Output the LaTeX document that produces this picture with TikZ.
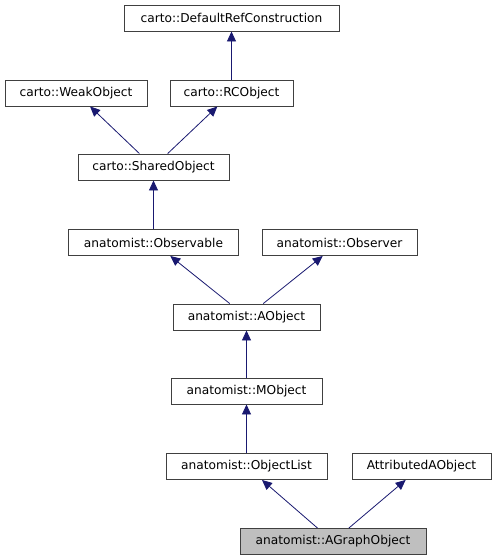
\documentclass[tikz,border=0pt]{standalone}
\usepackage{fontspec}
\setmainfont{DejaVu Sans}
\usetikzlibrary{arrows.meta}
\definecolor{edgeblue}{HTML}{191970}
\definecolor{selgray}{HTML}{BFBFBF}
\tikzset{
      cls/.style={draw=black!75, line width=0.9pt, minimum height=26pt,
                  minimum width=#1, inner sep=0pt,
                  font=\fontsize{12.2}{14}\selectfont},   % one class box
      inherit/.style={draw=edgeblue, line width=0.8pt,
                  -{Triangle[length=10pt,width=9pt]}}      % child -> parent
}
\begin{document}
\begin{tikzpicture}[x=1pt, y=-1pt]
                  \useasboundingbox (0, 0) rectangle (496, 560);
                  % carto classes
                  \node [cls=215pt] (refcons) at (231.5, 18) {carto::DefaultRefConstruction};
                  \node [cls=142pt] (weak) at (76, 93) {carto::WeakObject};
                  \node [cls=123pt] (rcobj) at (231.5, 93) {carto::RCObject};
                  \node [cls=151pt] (shared) at (153.5, 167) {carto::SharedObject};
                  % anatomist classes
                  \node [cls=170pt] (observable) at (153.5, 242.5) {anatomist::Observable};
                  \node [cls=155pt] (observer) at (339.5, 242.5) {anatomist::Observer};
                  \node [cls=147pt] (aobject) at (246.5, 317) {anatomist::AObject};
                  \node [cls=151pt] (mobject) at (246.5, 391) {anatomist::MObject};
                  \node [cls=161pt] (objlist) at (246.5, 466.5) {anatomist::ObjectList};
                  \node [cls=139pt] (attrib) at (421.5, 466.5) {AttributedAObject};
                  \node [cls=186pt, fill=selgray] (agraph) at (333, 541.5) {anatomist::AGraphObject};
                  % inheritance edges
                  \draw [inherit] (rcobj) -- (refcons);
                  \draw [inherit] (shared) -- (weak);
                  \draw [inherit] (shared) -- (rcobj);
                  \draw [inherit] (observable) -- (shared);
                  \draw [inherit] (aobject) -- (observable);
                  \draw [inherit] (aobject) -- (observer);
                  \draw [inherit] (mobject) -- (aobject);
                  \draw [inherit] (objlist) -- (mobject);
                  \draw [inherit] (agraph) -- (objlist);
                  \draw [inherit] (agraph) -- (attrib);
            \end{tikzpicture}
\end{document}
